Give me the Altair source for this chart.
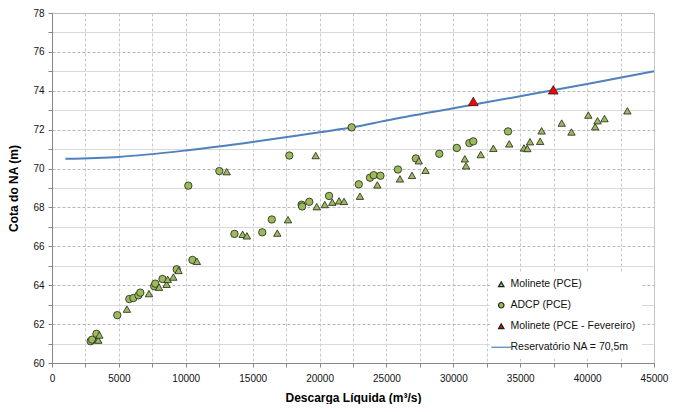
import altair as alt
import pandas as pd

# Molinete (PCE) - green triangles
mol_x = [3390, 3460, 3540, 5600, 7250, 8000, 8570, 8650, 9070, 9460, 10830,
         13060, 14250, 14570, 16840, 17640, 19710, 19790, 20390, 20950, 21460, 21830,
         23020, 24320, 26010, 26910, 27420, 27920, 30860, 30950, 32050, 32990, 34180,
         35280, 35530, 35730, 36490, 36600, 38100, 38830, 40090, 40600, 40780, 41300, 43010]
mol_y = [61.20, 61.18, 61.44, 62.77, 63.57, 63.90, 64.05, 64.30, 64.42, 64.76, 65.23,
         69.84, 66.62, 66.54, 66.68, 67.37, 70.67, 68.04, 68.15, 68.27, 68.34, 68.31,
         68.58, 69.16, 69.47, 69.65, 70.40, 69.91, 70.50, 70.14, 70.72, 71.04, 71.27,
         71.06, 71.03, 71.38, 71.40, 71.94, 72.34, 71.88, 72.75, 72.15, 72.46, 72.57, 72.97]

# ADCP (PCE) - green circles
adcp_x = [2890, 3000, 3320, 4880, 5780, 6080, 6460, 6600, 7640, 7720, 8260, 9320,
          10190, 10500, 12510, 13640, 15720, 16430, 17740, 18660, 18700, 19230, 20710,
          22400, 22930, 23770, 24050, 24550, 25860, 27200, 28950, 30260, 31200, 31490, 34090]
adcp_y = [61.12, 61.20, 61.50, 62.46, 63.29, 63.34, 63.48, 63.62, 63.95, 64.08, 64.32, 64.82,
          69.12, 65.30, 69.87, 66.64, 66.72, 67.38, 70.67, 68.14, 68.05, 68.29, 68.59,
          72.12, 69.19, 69.53, 69.66, 69.63, 69.95, 70.52, 70.76, 71.06, 71.31, 71.40, 71.91]

# Molinete (PCE - Fevereiro) - red triangles
fev_x = [31490, 37470]
fev_y = [73.45, 74.05]

# Reservatorio NA = 70,5m - blue line
res_x = [1000, 5000, 10000, 15000, 20000, 22500, 25000, 30000, 35000, 40000, 45000]
res_y = [70.50, 70.60, 70.93, 71.37, 71.87, 72.12, 72.47, 73.10, 73.72, 74.35, 75.00]

series = ["Molinete (PCE)", "ADCP (PCE)", "Molinete (PCE - Fevereiro)", "Reservatório NA = 70,5m"]

x_ticks = list(range(0, 45001, 2500))
y_ticks = list(range(60, 79, 1))

df_mol = pd.DataFrame({"q": mol_x, "h": mol_y, "serie": series[0]})
df_adcp = pd.DataFrame({"q": adcp_x, "h": adcp_y, "serie": series[1]})
df_fev = pd.DataFrame({"q": fev_x, "h": fev_y, "serie": series[2]})
df_res = pd.DataFrame({"q": res_x, "h": res_y, "serie": series[3]})

FONT = "Liberation Sans"
GREEN = "#9BBB59"

fill_scale = alt.Scale(domain=series, range=[GREEN, GREEN, "#FF0000", "transparent"])
stroke_scale = alt.Scale(domain=series, range=["#222222", "#222222", "#222222", "#4F81BD"])
shape_scale = alt.Scale(domain=series, range=["triangle-up", "circle", "triangle-up", "M-3.6,0H3.6"])

x_enc = alt.X(
    "q:Q",
    scale=alt.Scale(domain=[0, 45000], nice=False, zero=False),
    axis=alt.Axis(
        title="Descarga Líquida (m³/s)",
        values=x_ticks,
        labelExpr="datum.value % 5000 === 0 ? format(datum.value, 'd') : ''",
        labelFlush=False,
        labelOverlap=False,
        gridDash=[3, 2],
        gridColor="#C8C8C8",
        tickSize=4,
        titlePadding=9,
        labelPadding=6,
    ),
)
y_enc = alt.Y(
    "h:Q",
    scale=alt.Scale(domain=[60, 78], nice=False, zero=False),
    axis=alt.Axis(
        title="Cota do NA (m)",
        values=y_ticks,
        labelExpr="datum.value % 2 === 0 ? datum.label : ''",
        labelOverlap=False,
        labelFlush=False,
        gridDash={"condition": {"test": "datum.value % 2 === 0", "value": [3, 2]}, "value": []},
        gridColor={"condition": {"test": "datum.value % 2 === 0", "value": "#B8B8B8"}, "value": "#D9D9D9"},
        tickSize=4,
        titlePadding=12,
        labelPadding=4,
    ),
)

legend = alt.Legend(
    title=None,
    orient="none",
    legendX=438,
    legendY=260,
    fillColor="white",
    padding=6,
    symbolSize=30,
    symbolStrokeWidth=1.2,
    rowPadding=10,
    labelFont=FONT,
    labelFontSize=10.5,
    labelColor="#111111",
)

line = alt.Chart(df_res).mark_line(strokeWidth=2, interpolate="monotone").encode(
    x=x_enc,
    y=y_enc,
    stroke=alt.Stroke("serie:N", scale=stroke_scale, legend=legend),
)


def pts(df, size):
    return alt.Chart(df).mark_point(filled=True, opacity=1, strokeWidth=0.8, size=size).encode(
        x=x_enc,
        y=y_enc,
        fill=alt.Fill("serie:N", scale=fill_scale, legend=legend),
        stroke=alt.Stroke("serie:N", scale=stroke_scale, legend=legend),
        shape=alt.Shape("serie:N", scale=shape_scale, legend=legend),
    )


chart = alt.layer(
    line,
    pts(df_adcp, 55),
    pts(df_mol, 55),
    pts(df_fev, 95),
).properties(
    width=602,
    height=350,
    autosize=alt.AutoSizeParams(type="none"),
    padding={"left": 44, "top": 5, "right": 21, "bottom": 41},
    background="white",
).configure_view(
    stroke="#BFBFBF",
).configure_axis(
    labelFont=FONT,
    titleFont=FONT,
    labelFontSize=10,
    titleFontSize=12,
    titleFontWeight="bold",
    labelColor="#111111",
    titleColor="#000000",
    domainColor="#868686",
    tickColor="#868686",
)

chart.save("out.html", embed_options={"renderer": "svg", "actions": False})
